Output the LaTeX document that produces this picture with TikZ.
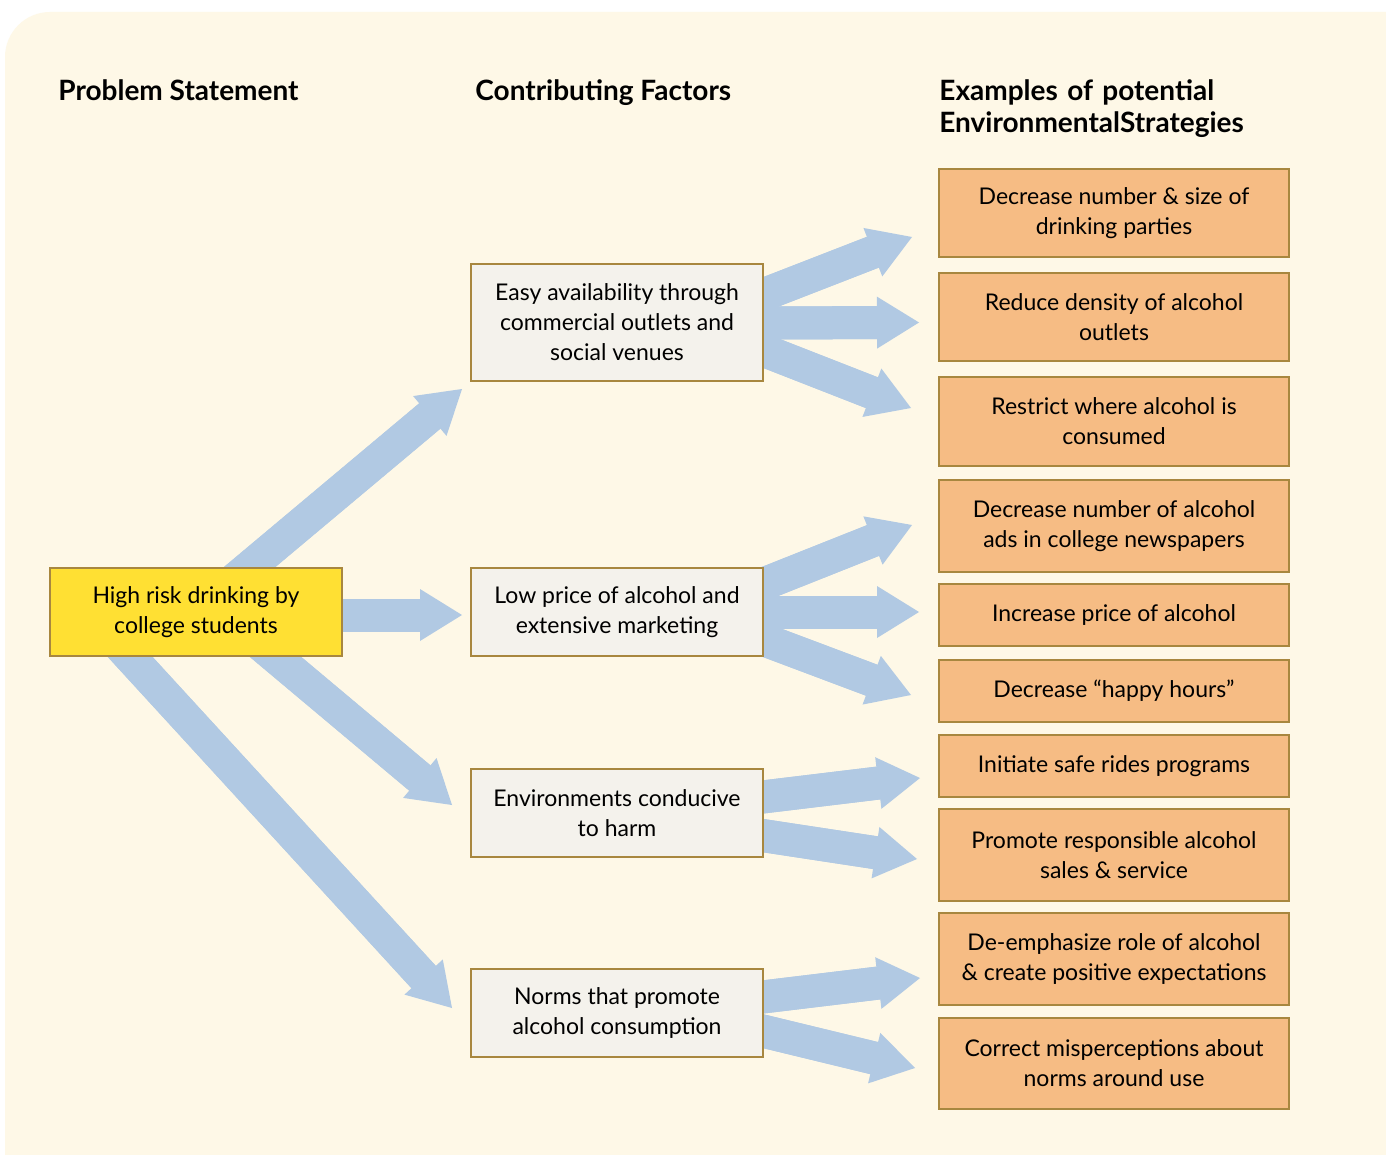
\documentclass[tikz,border=0pt]{standalone}
\usepackage{fontspec}
\setmainfont{Lato}
\usetikzlibrary{arrows.meta,calc}
\definecolor{bgcream}{HTML}{FEF8E7}
\definecolor{edgebrown}{HTML}{A8873F}
\definecolor{yellowfill}{HTML}{FFE033}
\definecolor{greyfill}{HTML}{F4F2EC}
\definecolor{orangefill}{HTML}{F6BC84}
\definecolor{arrowblue}{HTML}{B1C9E3}
\pgfdeclarelayer{back}
\pgfdeclarelayer{mid}
\pgfsetlayers{back,mid,main}
\begin{document}
\begin{tikzpicture}[x=0.5pt,y=-0.5pt,
  boxbase/.style={draw=edgebrown, line width=1pt, align=center, inner sep=0pt,
    font=\fontsize{11.5}{15}\selectfont},
  problembox/.style={boxbase, fill=yellowfill, minimum width=146pt, minimum height=44pt},
  factorbox/.style={boxbase, fill=greyfill, minimum width=146pt, minimum height=44pt},
  strategybox/.style={boxbase, fill=orangefill, minimum width=175pt, minimum height=44pt},
  heading/.style={font=\bfseries\fontsize{14}{16}\selectfont, anchor=base west, inner sep=0pt, align=left},
  bigarrow/.style={arrowblue, line width=16.5pt, -{Triangle[length=21pt,width=26pt,line width=0pt]},
    postaction={draw=arrowblue, line width=16.5pt, -, shorten >=17pt}},
]
\useasboundingbox (0,0) rectangle (1386,1155);

% headings
\node[heading] (h1) at (58,101) {Problem Statement};
\node[heading] (h2) at (475,101) {Contributing Factors};
\node[heading, text width=220pt] (h3) at (939,101) {Examples of potential\\EnvironmentalStrategies};

% problem
\node[problembox] (prob) at (196,612) {High risk drinking by\\college students};

% factors
\node[factorbox, minimum height=58.5pt] (f1) at (617,322.5) {Easy availability through\\commercial outlets and\\social venues};
\node[factorbox] (f2) at (617,612) {Low price of alcohol and\\extensive marketing};
\node[factorbox] (f3) at (617,813) {Environments conducive\\to harm};
\node[factorbox] (f4) at (617,1013) {Norms that promote\\alcohol consumption};

% strategies
\node[strategybox] (s1) at (1114,213) {Decrease number \& size of\\drinking parties};
\node[strategybox] (s2) at (1114,317) {Reduce density of alcohol\\outlets};
\node[strategybox, minimum height=44.5pt] (s3) at (1114,421.5) {Restrict where alcohol is\\consumed};
\node[strategybox, minimum height=46pt] (s4) at (1114,526) {Decrease number of alcohol\\ads in college newspapers};
\node[strategybox, minimum height=31pt] (s5) at (1114,615) {Increase price of alcohol};
\node[strategybox, minimum height=31pt] (s6) at (1114,691) {Decrease “happy hours”};
\node[strategybox, minimum height=31pt] (s7) at (1114,766) {Initiate safe rides programs};
\node[strategybox, minimum height=46pt] (s8) at (1114,855) {Promote responsible alcohol\\sales \& service};
\node[strategybox, minimum height=46pt] (s9) at (1114,959) {De-emphasize role of alcohol\\\& create positive expectations};
\node[strategybox, minimum height=45.5pt] (s10) at (1114,1063.5) {Correct misperceptions about\\norms around use};

\begin{pgfonlayer}{back}
  \fill[white] (0,0) rectangle (1386,1155);
  \fill[bgcream] (5,1155) -- (5,57) .. controls (5,32.2) and (25.2,12) .. (50,12) -- (1386,12) -- (1386,1155) -- cycle;
\end{pgfonlayer}

\begin{pgfonlayer}{mid}
  % from problem
  \draw[bigarrow] (prob.center) -- ([shift={(-8,66.5)}]f1.west);
  \draw[bigarrow] ([shift={(0,3)}]prob.center) -- ([shift={(-8,3)}]f2.west);
  \draw[bigarrow] ([shift={(26,0)}]prob.center) -- ([shift={(-18,-8)}]f3.west);
  \draw[bigarrow] ([shift={(-107,0)}]prob.center) -- ([shift={(-18,-5)}]f4.west);
  % from f1
  \draw[bigarrow] ([shift={(-18,-21)}]f1.east) -- ([shift={(-26,24)}]s1.west);
  \draw[bigarrow] ([shift={(-18,0.5)}]f1.east) -- ([shift={(-19,5.5)}]s2.west);
  \draw[bigarrow] ([shift={(-18,21)}]f1.east) -- ([shift={(-27,-13.5)}]s3.west);
  % from f2
  \draw[bigarrow] ([shift={(-18,-21)}]f2.east) -- ([shift={(-26,-1)}]s4.west);
  \draw[bigarrow] ([shift={(-18,0)}]f2.east) -- ([shift={(-19,-3)}]s5.west);
  \draw[bigarrow] ([shift={(-18,21)}]f2.east) -- ([shift={(-27,4)}]s6.west);
  % from f3
  \draw[bigarrow] ([shift={(-18,-14)}]f3.east) -- ([shift={(-18,12)}]s7.west);
  \draw[bigarrow] ([shift={(-18,20)}]f3.east) -- ([shift={(-21,4)}]s8.west);
  % from f4
  \draw[bigarrow] ([shift={(-18,-14)}]f4.east) -- ([shift={(-18,19)}]s9.west);
  \draw[bigarrow] ([shift={(-18,14)}]f4.east) -- ([shift={(-23,4.5)}]s10.west);
\end{pgfonlayer}
\end{tikzpicture}
\end{document}
